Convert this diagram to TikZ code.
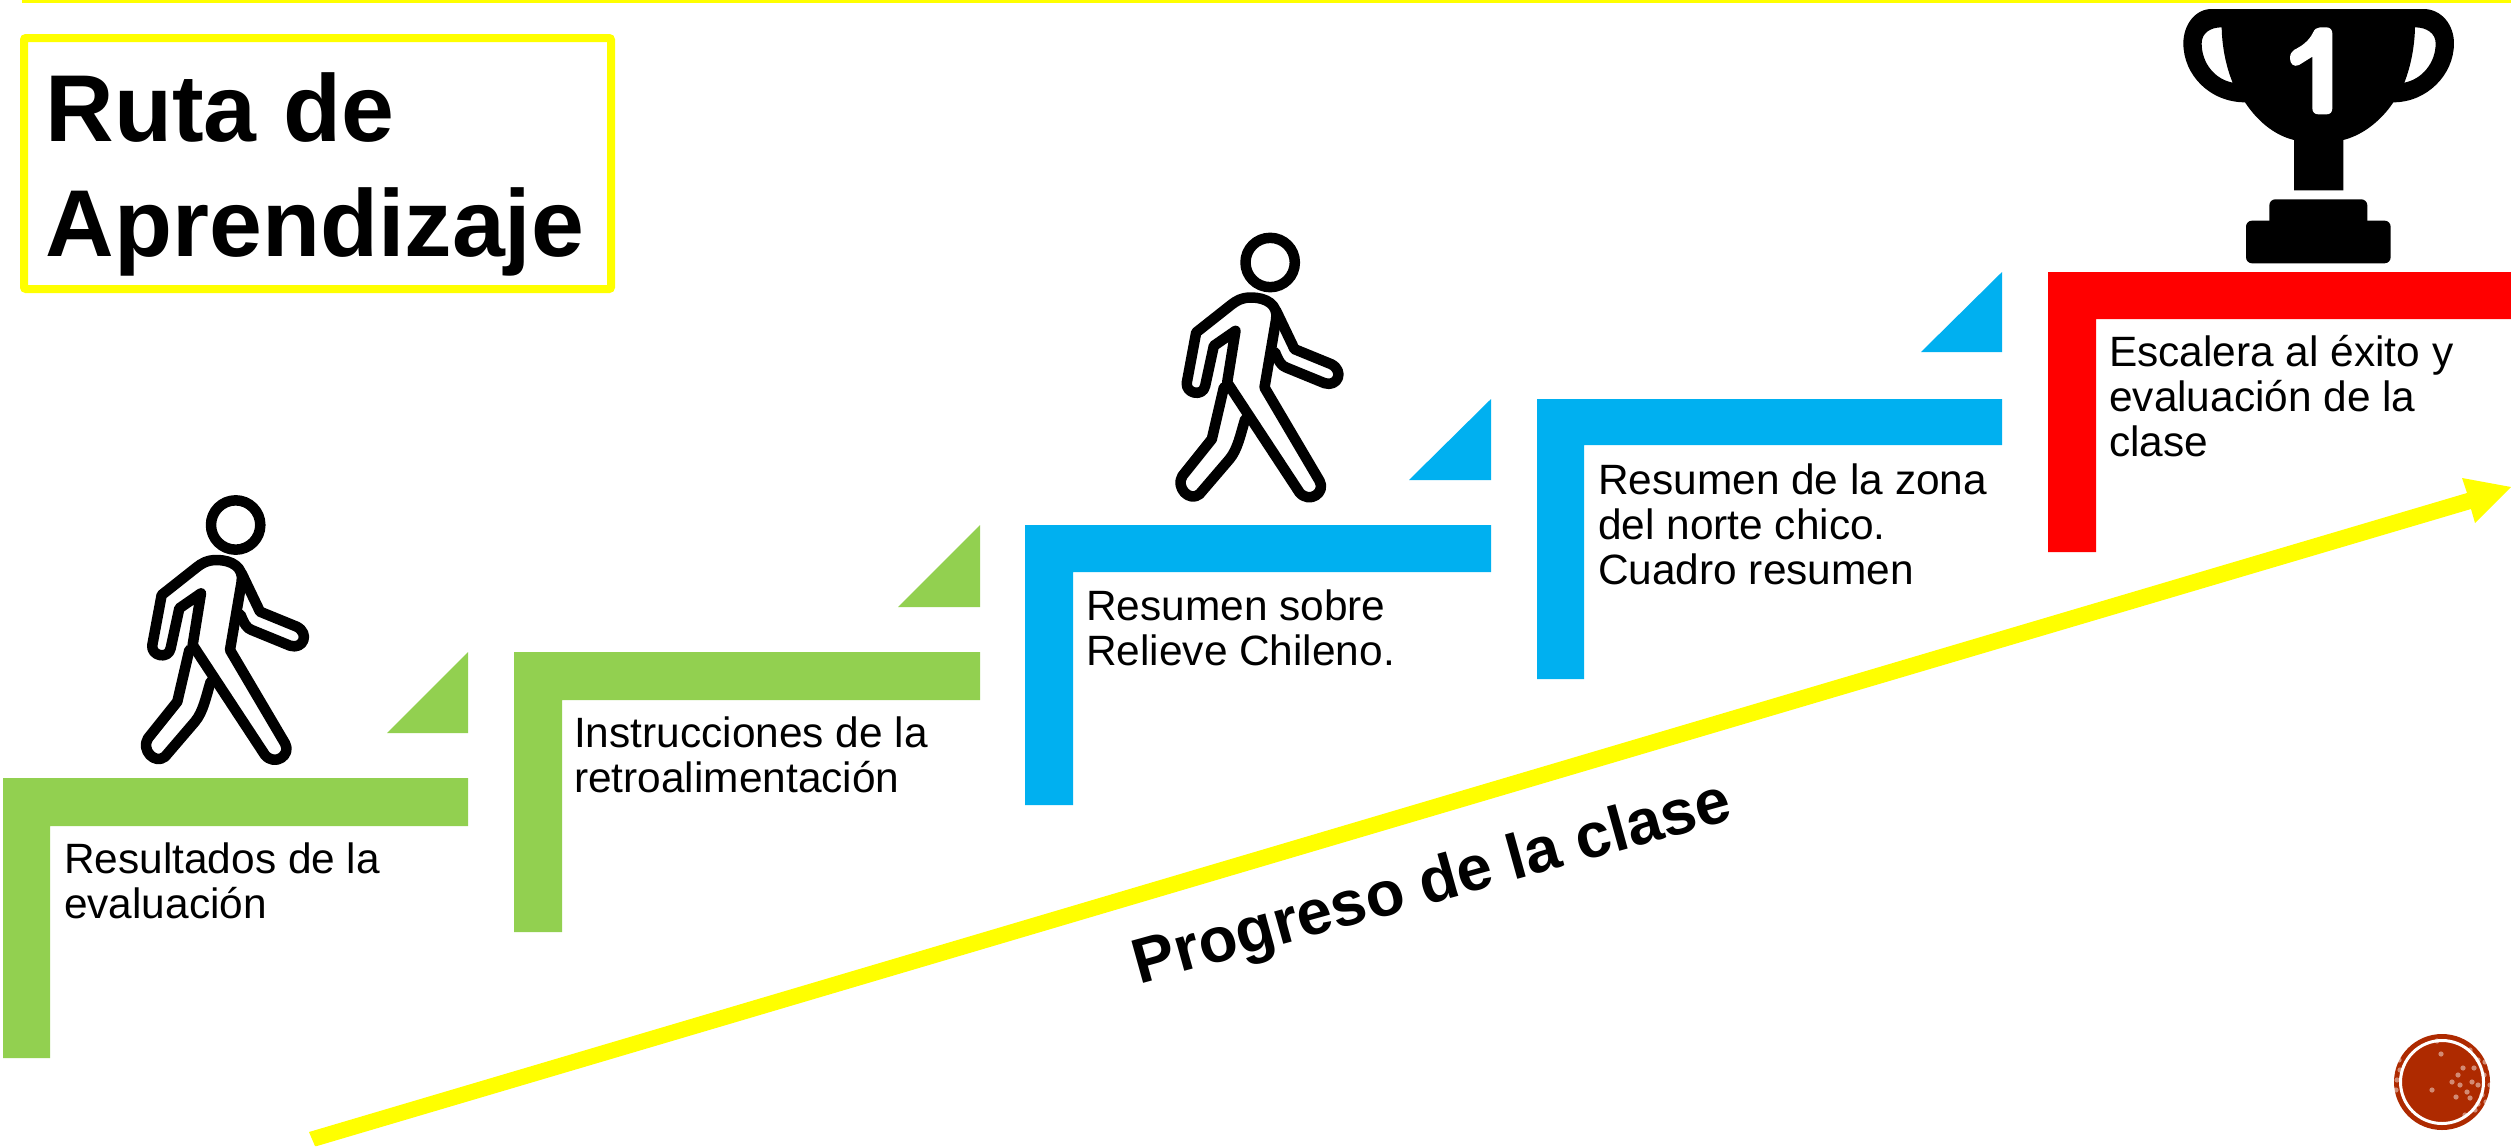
\documentclass[tikz,border=0pt]{standalone}
\usepackage{fontspec}
\setmainfont{Liberation Sans}
\definecolor{stepgreen}{HTML}{92D050}
\definecolor{stepblue}{HTML}{00B0F0}
\definecolor{stepred}{HTML}{FF0000}
\definecolor{routeyellow}{HTML}{FFFF00}
\definecolor{seal}{HTML}{AE2A00}
\tikzset{
  steptext/.style={anchor=north west,inner sep=0pt,align=left,text=black,font=\fontsize{42.4}{45}\selectfont},
  walkerline/.style={draw=black,line width=10.5pt,line join=round,line cap=round},
  pics/walker/.style={code={
    \begin{scope}[x=0.3333pt,y=-0.3333pt]
      \draw[walkerline] (347,135) circle[radius=74];
      \draw[walkerline] (365,305) .. controls (372,262) and (335,240) .. (290,240)
        .. controls (262,240) and (245,250) .. (230,262) -- (125,345) -- (97,495)
        .. controls (92,528) and (145,540) .. (152,505) -- (178,385) -- (243,340) -- (218,495)
        -- (435,825) .. controls (465,860) and (515,825) .. (495,790) -- (330,510) -- (365,305);
      \draw[walkerline] (365,280) -- (420,395) -- (530,440)
        .. controls (570,460) and (550,510) .. (510,497) -- (395,450) .. controls (380,445) and (372,430) .. (362,405);
      \draw[walkerline] (208,510) -- (172,665) -- (84,775)
        .. controls (62,810) and (105,855) .. (135,830) -- (225,725) .. controls (250,695) and (258,650) .. (272,605);
    \end{scope}
  }}
}
\begin{document}
\begin{tikzpicture}[x=1pt,y=-1pt]
\useasboundingbox[fill=white] (0,0) rectangle (2511,1146);
% top line
\fill[routeyellow] (22,0) rectangle (2511,2.5);
% title
\draw[routeyellow,line width=8pt,rounded corners=2pt] (24,38) rectangle (611,289);
\node[anchor=north west,inner sep=0pt,align=left,font=\fontsize{95}{115}\selectfont\bfseries] (title) at (45.5,72) {Ruta de\\Aprendizaje};
% step 1
\fill[stepgreen] (3,778) -- (468,778) -- (468,826) -- (50,826) -- (50,1058) -- (3,1058) -- cycle;
\fill[stepgreen] (468,652) -- (387,733) -- (468,733) -- cycle;
\node[steptext] (t1) at (64,843) {Resultados de la\\evaluación};
% step 2
\fill[stepgreen] (514,652) -- (980,652) -- (980,700) -- (562,700) -- (562,932) -- (514,932) -- cycle;
\fill[stepgreen] (980,525) -- (898,607) -- (980,607) -- cycle;
\node[steptext] (t2) at (574,717) {Instrucciones de la\\retroalimentación};
% step 3
\fill[stepblue] (1025,525) -- (1491,525) -- (1491,572) -- (1073,572) -- (1073,805) -- (1025,805) -- cycle;
\fill[stepblue] (1491,399) -- (1409,480) -- (1491,480) -- cycle;
\node[steptext] (t3) at (1086,590) {Resumen sobre\\Relieve Chileno.};
% step 4
\fill[stepblue] (1537,399) -- (2002,399) -- (2002,445) -- (1584,445) -- (1584,679) -- (1537,679) -- cycle;
\fill[stepblue] (2002,272) -- (1921,352) -- (2002,352) -- cycle;
\node[steptext] (t4) at (1598,464) {Resumen de la zona\\del norte chico.\\Cuadro resumen};
% step 5
\fill[stepred] (2048,272) -- (2511,272) -- (2511,319) -- (2096,319) -- (2096,552) -- (2048,552) -- cycle;
\node[steptext] (t5) at (2109,335) {Escalera al éxito y\\evaluación de la\\clase};
% walkers
\pic at (120,480) {walker};
\pic at (1154.5,217.5) {walker};
% trophy
\begin{scope}[shift={(2150,0)},x=0.3333pt,y=-0.3333pt]
  \fill[black,even odd rule] (185,27) -- (820,27) .. controls (875,27) and (912,75) .. (912,130)
    .. controls (912,225) and (830,307) .. (730,307)
    .. controls (695,360) and (640,405) .. (580,420) -- (580,571) -- (432,571) -- (432,420)
    .. controls (370,405) and (320,360) .. (285,307)
    .. controls (180,307) and (100,225) .. (100,130) .. controls (100,75) and (135,27) .. (185,27) -- cycle
    (215,82) .. controls (180,82) and (155,100) .. (155,130) .. controls (155,190) and (195,238) .. (248,248)
    .. controls (228,200) and (216,140) .. (215,82) -- cycle
    (795,82) .. controls (830,82) and (857,100) .. (857,130) .. controls (857,190) and (815,238) .. (763,248)
    .. controls (782,200) and (794,140) .. (795,82) -- cycle;
  \fill[white] (547,100) -- (547,325) .. controls (547,337) and (540,343) .. (530,343) -- (505,343)
    .. controls (495,343) and (487,337) .. (487,325) -- (487,170) -- (447,195)
    .. controls (430,203) and (420,190) .. (420,175) .. controls (420,162) and (425,155) .. (432,150)
    .. controls (455,138) and (475,125) .. (488,100) .. controls (493,88) and (500,82) .. (510,82) -- (530,82)
    .. controls (540,82) and (547,90) .. (547,100) -- cycle;
  \fill[black,rounded corners=6pt] (358,690) -- (358,598) -- (652,598) -- (652,690) -- cycle;
  \fill[black,rounded corners=6pt] (288,662) -- (722,662) -- (722,790) -- (288,790) -- cycle;
\end{scope}
% arrow
\fill[routeyellow] (309,1132) -- (2467,493) -- (2462,478) -- (2511,487) -- (2475,523) -- (2471,509) -- (317,1146) -- (315,1146) -- cycle;
\node[anchor=center,inner sep=0pt,rotate=15.5,font=\fontsize{63.5}{70}\selectfont\bfseries] (progress) at (1433,886) {Progreso de la clase};
% seal
\fill[seal] (2442,1082) circle[radius=48];
\draw[white,line width=3pt] (2442,1082) circle[radius=41.5];
\foreach \px/\py in {2470/1050,2478/1060,2484/1075,2472/1082,2460/1085,2482/1095,2470/1098,2490/1085,2458/1075,2475/1110,2465/1115,2400/1070,2441/1054,2485/1062,2463/1068,2474/1068,2467/1092,2478/1085,2486/1102,2456/1097,2478/1104,2437/1041,2399/1060,2397/1080,2396/1090,2470/1125,2482/1117,2490/1068,2452/1082,2432/1090}
  \fill[white,opacity=.45] (\px,\py) circle[radius=2.6];
\end{tikzpicture}
\end{document}
